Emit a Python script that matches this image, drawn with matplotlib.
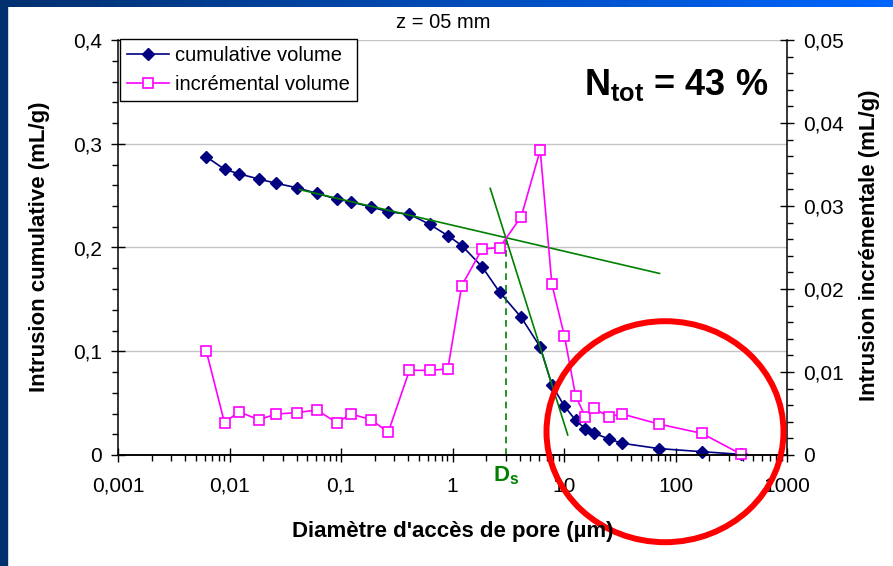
import numpy as np
import matplotlib.pyplot as plt
from matplotlib.patches import Ellipse, Rectangle
from matplotlib.ticker import FixedLocator, MultipleLocator, FuncFormatter, NullFormatter
from matplotlib.transforms import blended_transform_factory

plt.rcParams['font.family'] = ['Liberation Sans', 'DejaVu Sans']
plt.rcParams['mathtext.fontset'] = 'custom'
plt.rcParams['mathtext.rm'] = 'Liberation Sans'
plt.rcParams['mathtext.bf'] = 'Liberation Sans:bold'
plt.rcParams['mathtext.default'] = 'bf'

# diamètres d'accès (µm) et volumes intrudés
diametre = [0.00618, 0.00902, 0.0121, 0.0183, 0.0262, 0.0402, 0.0607, 0.0917, 0.123,
            0.187, 0.265, 0.411, 0.622, 0.908, 1.21, 1.84, 2.64, 4.13, 6.12, 7.78,
            10.1, 12.7, 15.5, 18.5, 25.1, 33.2, 70.8, 172, 388]
cumulatif = [0.2875, 0.2754, 0.2711, 0.2660, 0.2619, 0.2576, 0.2522, 0.2467, 0.2439,
             0.2390, 0.2345, 0.2320, 0.2224, 0.2114, 0.2019, 0.1815, 0.1571, 0.1327,
             0.1041, 0.0675, 0.0470, 0.0335, 0.0254, 0.0212, 0.0155, 0.0113, 0.0062,
             0.0032, 0.0006]
incremental = [0.01257, 0.00389, 0.00522, 0.00425, 0.00494, 0.00510, 0.00542, 0.00389,
               0.00494, 0.00425, 0.00273, 0.01020, 0.01020, 0.01036, 0.02040, 0.02480,
               0.02500, 0.02870, 0.03675, 0.02060, 0.01430, 0.00715, 0.00462, 0.00562,
               0.00462, 0.00494, 0.00373, 0.00261, 0.00010]

# graduations de l'axe des diamètres
decades = [0.001, 0.01, 0.1, 1, 10, 100, 1000]

# tangentes pour la détermination de Ds
tangente1_x = [0.0425, 71.9]
tangente1_y = [0.2558, 0.1750]
tangente2_x = [2.18, 10.8]
tangente2_y = [0.2570, 0.0193]
ds = 3.0
ds_y = 0.209

W, H = 893, 566
fig = plt.figure(figsize=(W / 100, H / 100), dpi=100)

# cadre bleu (bande gauche + bande du haut en dégradé)
fig.patches.append(Rectangle((0, 0), 7 / W, 1, transform=fig.transFigure,
                             color='#00306E', zorder=-1))
degrade = np.linspace(0, 1, W)
c0 = np.array([0x00, 0x30, 0x6E]) / 255
c1 = np.array([0x00, 0x66, 0xFF]) / 255
bande = np.outer(np.ones(7), degrade)[..., None] * (c1 - c0) + c0
fig.figimage(bande, xo=0, yo=H - 7, origin='upper', zorder=-1)

ax = fig.add_axes([118 / W, 1 - 455 / H, (787 - 118) / W, (455 - 40) / H])
ax2 = ax.twinx()

virgule = FuncFormatter(lambda v, p: ('%g' % v).replace('.', ','))

ax.set_xscale('log')
ax.set_xlim(decades[0], decades[-1])
ax.set_ylim(0, 0.4)
ax2.set_ylim(0, 0.05)
mineures = [d * k for d in decades[:-1] for k in range(2, 10)]
ax.xaxis.set_major_locator(FixedLocator(decades))
ax.xaxis.set_minor_locator(FixedLocator(mineures))
ax.xaxis.set_minor_formatter(NullFormatter())
ax.xaxis.set_major_formatter(virgule)
ax.yaxis.set_major_locator(MultipleLocator(0.1))
ax.yaxis.set_minor_locator(MultipleLocator(0.02))
ax.yaxis.set_major_formatter(virgule)
ax2.yaxis.set_major_locator(MultipleLocator(0.01))
ax2.yaxis.set_minor_locator(MultipleLocator(0.002))
ax2.yaxis.set_major_formatter(virgule)

for a in (ax, ax2):
    a.tick_params(which='major', direction='inout', length=9.5, width=1, labelsize=15)
    a.tick_params(which='minor', direction='out', length=4.3, width=1)
    a.spines['top'].set_visible(False)
    for s in a.spines.values():
        s.set_linewidth(1.1)
ax.tick_params(axis='x', which='major', pad=11)
ax.tick_params(axis='y', which='major', pad=7)
ax2.tick_params(axis='y', which='major', pad=7)
ax.spines['right'].set_visible(False)
ax2.spines['left'].set_visible(False)

ax.yaxis.grid(True, which='major', color='#C4C4C4', lw=1)
ax.set_axisbelow(True)

l1, = ax.plot(diametre, cumulatif, color='#000080', marker='D', ms=6.5, lw=1.2,
              clip_on=False, label='cumulative volume')
l2, = ax2.plot(diametre, incremental, color='#FF00FF', marker='s', ms=7.5, mfc='white',
               mew=1.2, lw=1.2, clip_on=False, label='incrémental volume')

ax.plot(tangente1_x, tangente1_y, color='#008000', lw=1.2)
ax.plot(tangente2_x, tangente2_y, color='#008000', lw=1.2)
ax.plot([ds, ds], [0, ds_y], color='#008000', lw=1.2, ls=(0, (4, 3)))

leg = ax2.legend(handles=[l1, l2], loc='upper left',
                 bbox_to_anchor=(120 / W, 1 - 39 / H), bbox_transform=fig.transFigure,
                 borderaxespad=0, fontsize=14.5, fancybox=False, edgecolor='black',
                 framealpha=1, handlelength=2.1, handletextpad=0.3, borderpad=0.35,
                 labelspacing=0.5)
leg.get_frame().set_linewidth(1.0)

fig.text(443 / W, 1 - 22 / H, 'z = 05 mm', ha='center', va='center', fontsize=14.5)
fig.text(676 / W, 1 - 95 / H, r'N$_{tot}$ = 43 %', ha='center', va='baseline',
         fontsize=26, weight='bold')
fig.text(40 / W, 1 - 247 / H, 'Intrusion cumulative (mL/g)', rotation=90,
         ha='center', va='center', fontsize=16, weight='bold')
fig.text(870 / W, 1 - 245 / H, 'Intrusion incrémentale (mL/g)', rotation=90,
         ha='center', va='center', fontsize=16, weight='bold')
fig.text(453 / W, 1 - 532 / H, "Diamètre d'accès de pore (µm)", ha='center',
         va='center', fontsize=16, weight='bold')

trans = blended_transform_factory(ax.transData, fig.transFigure)
ax.text(ds, 1 - 476 / H, r'D$_s$', transform=trans, ha='center', va='center',
        fontsize=16, weight='bold', color='#008000', clip_on=False)

# cercle rouge autour des gros pores
fig.add_artist(Ellipse((665 / W, 1 - 431.7 / H), 237 / W, 221 / H,
                       transform=fig.transFigure, fill=False, ec='#FF0000', lw=4.3))

fig.savefig('out.png', dpi=100)
